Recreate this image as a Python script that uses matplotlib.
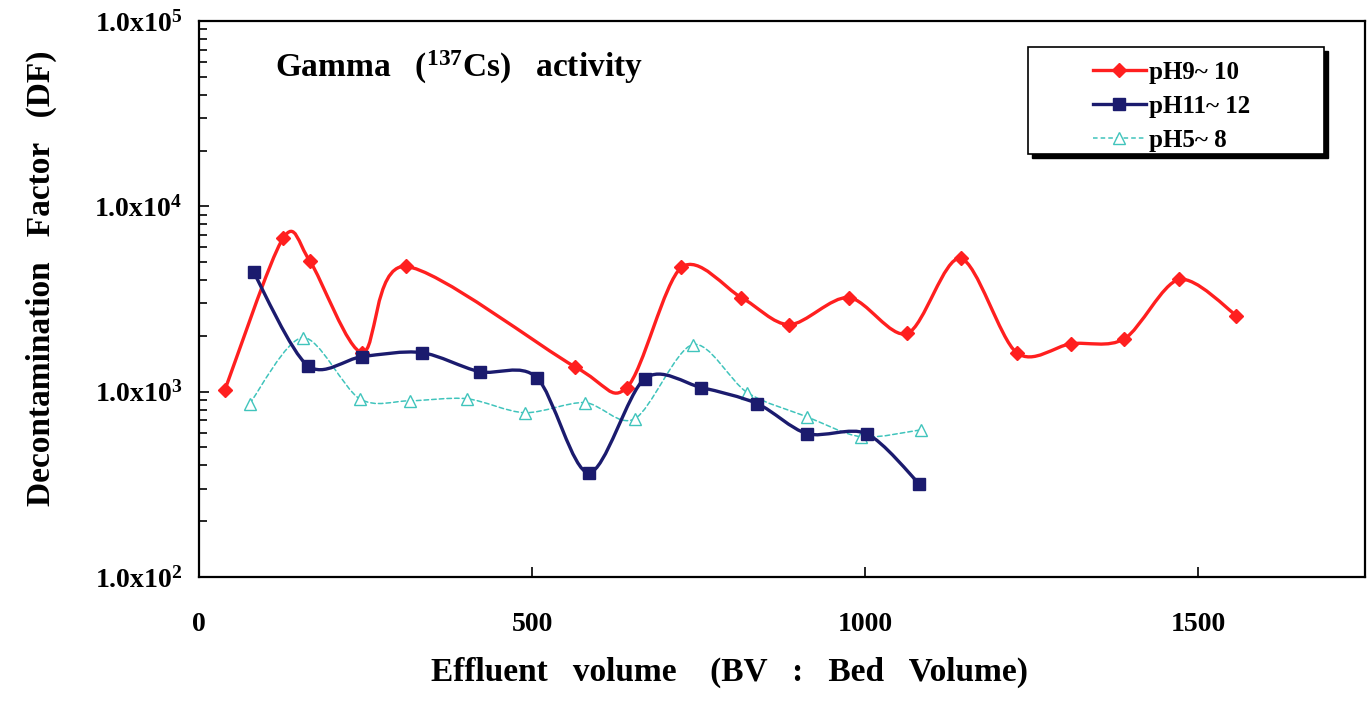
import numpy as np
import matplotlib
matplotlib.use('Agg')
import matplotlib.pyplot as plt
from matplotlib.path import Path
from matplotlib.patches import PathPatch, Rectangle
from matplotlib.lines import Line2D
from matplotlib.ticker import FixedLocator, FixedFormatter, LogLocator, NullFormatter

# ---------------- data ----------------
ph9_bv = [39, 126, 166, 245, 310, 564, 642, 724, 814, 886, 975, 1063, 1143, 1227, 1309, 1389, 1471, 1557]
ph9_df = [1025, 6710, 5100, 1625, 4740, 1365, 1052, 4680, 3220, 2300, 3220, 2060, 5240, 1625, 1815, 1930, 4030, 2575]

ph11_bv = [82, 163, 245, 334, 421, 507, 585, 669, 754, 838, 913, 1002, 1081]
ph11_df = [4400, 1384, 1546, 1625, 1282, 1191, 365, 1176, 1052, 861, 593, 593, 318]

ph5_bv = [76, 156, 241, 316, 402, 489, 579, 654, 741, 823, 912, 994, 1084]
ph5_df = [861, 1959, 916, 893, 916, 770, 873, 714, 1795, 988, 733, 571, 623]

series_labels = ['pH9~ 10', 'pH11~ 12', 'pH5~ 8']
x_ticks = [0, 500, 1000, 1500]
x_tick_labels = ['0', '500', '1000', '1500']
y_ticks = [1e2, 1e3, 1e4, 1e5]
y_tick_labels = [r'1.0x10$^{2}$', r'1.0x10$^{3}$', r'1.0x10$^{4}$', r'1.0x10$^{5}$']
title_text = r'Gamma   ($^{137}$Cs)   activity'
x_label = 'Effluent   volume    (BV   :   Bed   Volume)'
y_label = 'Decontamination   Factor   (DF)'

# ---------------- style ----------------
plt.rcParams['font.family'] = ['Liberation Serif', 'DejaVu Serif']
plt.rcParams['font.weight'] = 'bold'
plt.rcParams['mathtext.fontset'] = 'custom'
plt.rcParams['mathtext.rm'] = 'Liberation Serif:bold'
plt.rcParams['mathtext.bf'] = 'Liberation Serif:bold'
plt.rcParams['mathtext.it'] = 'Liberation Serif:italic:bold'

RED = '#ff1f1f'
NAVY = '#1b1b6e'
CYAN = '#40c4bc'

fig = plt.figure(figsize=(13.7, 7.05), dpi=100)
ax = fig.add_axes([199 / 1370, (705 - 577) / 705, 1166 / 1370, 556 / 705])
ax.set_yscale('log')
ax.set_xlim(0, 1750)
ax.set_ylim(1e2, 1e5)


def smooth_path(xs, ys, k=0.15):
    """Smoothed line (spreadsheet style) built from Bezier segments in x/log-y space."""
    P = np.column_stack([np.asarray(xs, float), np.log10(np.asarray(ys, float))])
    n = len(P)
    verts = [P[0]]
    codes = [Path.MOVETO]
    for i in range(n - 1):
        p0 = P[i - 1] if i > 0 else P[i]
        p1 = P[i]
        p2 = P[i + 1]
        p3 = P[i + 2] if i + 2 < n else P[i + 1]
        c1 = p1 + (p2 - p0) * k
        c2 = p2 - (p3 - p1) * k
        verts += [c1, c2, p2]
        codes += [Path.CURVE4] * 3
    V = np.array(verts)
    V[:, 1] = 10 ** V[:, 1]
    return Path(V, codes)


series = [
    (ph5_bv, ph5_df, CYAN, 1.1, (0, (3, 2)), '^', 8, 'white', 1),
    (ph9_bv, ph9_df, RED, 2.4, '-', 'D', 7.5, RED, 2),
    (ph11_bv, ph11_df, NAVY, 2.4, '-', 's', 8.5, NAVY, 3),
]
handles = {}
for xs, ys, col, lw, ls, mk, ms, mfc, z in series:
    patch = PathPatch(smooth_path(xs, ys), facecolor='none', edgecolor=col,
                      lw=lw, linestyle=ls, zorder=z, capstyle='round', joinstyle='round')
    ax.add_patch(patch)
    ax.plot(xs, ys, linestyle='none', marker=mk, ms=ms, mfc=mfc, mec=col,
            mew=1.0, zorder=z + 0.5)
    handles[col] = Line2D([], [], color=col, lw=lw, linestyle=ls, marker=mk, ms=ms,
                          mfc=mfc, mec=col)

# ticks
ax.xaxis.set_major_locator(FixedLocator(x_ticks))
ax.xaxis.set_major_formatter(FixedFormatter(x_tick_labels))
ax.yaxis.set_major_locator(FixedLocator(y_ticks))
ax.yaxis.set_major_formatter(FixedFormatter(y_tick_labels))
ax.yaxis.set_minor_locator(LogLocator(base=10, subs=np.arange(2, 10)))
ax.yaxis.set_minor_formatter(NullFormatter())
ax.tick_params(axis='x', which='major', direction='in', length=7, width=1.2,
               pad=25, labelsize=20, top=False)
ax.tick_params(axis='y', which='major', direction='in', length=7, width=1.2,
               pad=12, labelsize=20, right=False)
ax.tick_params(axis='y', which='minor', direction='in', length=6, width=1.2, right=False)
for lab in ax.get_xticklabels() + ax.get_yticklabels():
    lab.set_fontweight('bold')

for sp in ax.spines.values():
    sp.set_linewidth(1.6)
    sp.set_color('black')

ax.set_xlabel(x_label, fontsize=24, fontweight='bold')
ax.xaxis.set_label_coords(0.455, -0.143)
ax.xaxis.label.set_va('top')
ax.set_ylabel(y_label, fontsize=24, fontweight='bold')
ax.yaxis.set_label_coords(-0.122, 0.538)

ax.text(0.065, 0.899, title_text, transform=ax.transAxes, fontsize=24,
        fontweight='bold', va='baseline', ha='left')

# legend box with shadow
bx0, bx1 = (1028 - 199) / 1166, (1324 - 199) / 1166
by0, by1 = (577 - 154) / 556, (577 - 47) / 556
dx, dy = 4 / 1166, 4 / 556
ax.add_patch(Rectangle((bx0 + dx, by0 - dy), bx1 - bx0, by1 - by0, transform=ax.transAxes,
                       facecolor='black', edgecolor='black', zorder=8, clip_on=False))
ax.add_patch(Rectangle((bx0, by0), bx1 - bx0, by1 - by0, transform=ax.transAxes,
                       facecolor='white', edgecolor='black', lw=1.2, zorder=9, clip_on=False))
leg = ax.legend([handles[RED], handles[NAVY], handles[CYAN]], series_labels,
                loc='upper left', bbox_to_anchor=((1093 - 199) / 1166, 0.9286),
                frameon=False, fontsize=18, handlelength=2.1, handletextpad=0.15,
                labelspacing=0.45, borderpad=0, borderaxespad=0)
leg.set_zorder(10)
for t in leg.get_texts():
    t.set_fontweight('bold')

fig.savefig('out.png', dpi=100, facecolor='white')
